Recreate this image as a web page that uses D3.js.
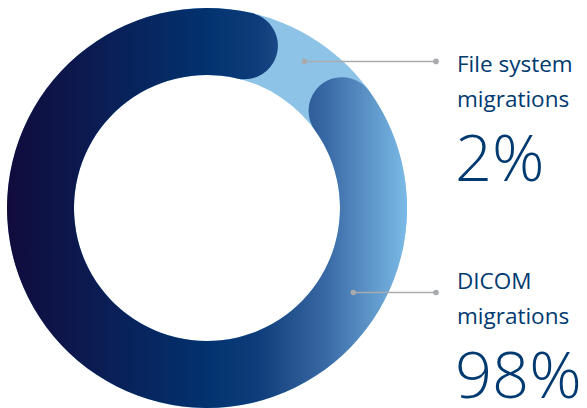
<!DOCTYPE html>
<html>
<head>
<meta charset="utf-8">
<script src="https://cdn.jsdelivr.net/npm/d3@7"></script>
<style>
  body { margin: 0; background: #fff; }
  text { font-family: "Open Sans", "Noto Sans", sans-serif; fill: #003a70; }
</style>
</head>
<body>
<script>
      // data
      var labels = ["File system", "DICOM"];
      var values = [2, 98];

      var w = 587, h = 408;
      var cx = 207, cy = 208;
      var outerR = 200, innerR = 133;
      var deg = Math.PI / 180;

      var svg = d3.select("body").append("svg")
            .attr("width", w)
            .attr("height", h);

      var g = svg.append("g").attr("transform", "translate(" + cx + "," + cy + ")");

      // horizontal gradient across the ring (in the g's coordinates)
      var grad = svg.append("defs").append("linearGradient")
            .attr("id", "ringGrad")
            .attr("gradientUnits", "userSpaceOnUse")
            .attr("x1", -outerR).attr("y1", 0)
            .attr("x2", outerR).attr("y2", 0);
      grad.append("stop").attr("offset", "0%").attr("stop-color", "#110b3c");
      grad.append("stop").attr("offset", "50%").attr("stop-color", "#02326f");
      grad.append("stop").attr("offset", "63%").attr("stop-color", "#0f3d7b");
      grad.append("stop").attr("offset", "80%").attr("stop-color", "#3a6aa6");
      grad.append("stop").attr("offset", "100%").attr("stop-color", "#7bbae6");

      // pie layout, rotated so the small slice sits top-right
      var pie = d3.pie().sort(null)
            .startAngle(30 * deg)
            .endAngle(390 * deg);
      var arcs = pie(values);

      var arc = d3.arc()
            .innerRadius(innerR)
            .outerRadius(outerR);

      // light background ring
      g.append("path")
        .attr("d", arc({startAngle: 0, endAngle: 2 * Math.PI}))
        .attr("fill", "#8ec3e8");

      // DICOM arc with rounded ends
      var roundArc = d3.arc()
            .innerRadius(innerR)
            .outerRadius(outerR)
            .cornerRadius((outerR - innerR) / 2)
            .padRadius((outerR + innerR) / 2)
            .padAngle(10.5 * deg);

      g.append("path")
        .attr("d", roundArc(arcs[1]))
        .attr("fill", "url(#ringGrad)");

      // leader lines + labels
      var labelX = 457, lineEnd = 436;
      var anchors = [
        {a: (arcs[0].startAngle + arcs[0].endAngle) / 2, r: 176},
        {a: 120 * deg, r: 169}
      ];

      var ann = svg.append("g");
      anchors.forEach(function(d, i) {
        var x0 = cx + d.r * Math.sin(d.a);
        var y0 = cy - d.r * Math.cos(d.a);
        ann.append("line")
          .attr("x1", x0).attr("y1", y0)
          .attr("x2", lineEnd).attr("y2", y0)
          .attr("stroke", "#a8aaad")
          .attr("stroke-width", 1.5);
        ann.append("circle").attr("cx", x0).attr("cy", y0).attr("r", 2.8).attr("fill", "#a8aaad");
        ann.append("circle").attr("cx", lineEnd).attr("cy", y0).attr("r", 2.8).attr("fill", "#a8aaad");

        var top = i === 0 ? 72 : 289;
        ann.append("text")
          .attr("x", labelX).attr("y", top)
          .attr("font-size", 22.5)
          .text(labels[i]);
        ann.append("text")
          .attr("x", labelX).attr("y", top + 35)
          .attr("font-size", 22.5)
          .text("migrations");
        ann.append("text")
          .attr("x", labelX - 2).attr("y", top + 109)
          .attr("font-size", 65)
          .attr("font-weight", 300)
          .text(values[i] + "%");
      });
</script>
</body>
</html>
